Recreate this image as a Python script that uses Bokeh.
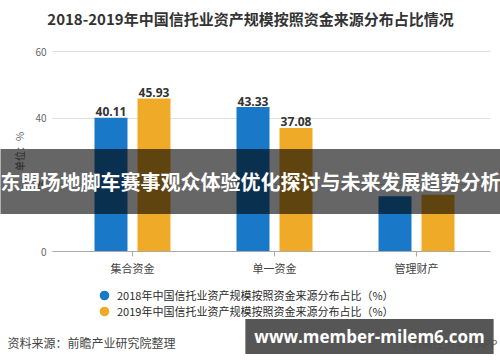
from bokeh.plotting import figure
from bokeh.models import (ColumnDataSource, Range1d, Label, Legend, LegendItem,
                          FixedTicker)
from bokeh.core.properties import value
from bokeh.embed import file_html
from bokeh.resources import INLINE

categories = ["集合资金", "单一资金", "管理财产"]
share_2018 = [40.11, 43.33, 16.56]
share_2019 = [45.93, 37.08, 16.99]
labels_2018 = ["40.11", "43.33", ""]
labels_2019 = ["45.93", "37.08", ""]
y_ticks = [0, 20, 40, 60]
title_text = "2018-2019年中国信托业资产规模按照资金来源分布占比情况"
legend_2018 = "2018年中国信托业资产规模按照资金来源分布占比（%）"
legend_2019 = "2019年中国信托业资产规模按照资金来源分布占比（%）"
source_text = "资料来源：前瞻产业研究院整理"
app_text = "@前瞻经济学人APP"
banner_text = "东盟场地脚车赛事观众体验优化探讨与未来发展趋势分析"
watermark_text = "www.member-milem6.com"

BLUE = "#1a78c8"
ORANGE = "#efab27"
CJK = "Noto Sans CJK SC"

W, H = 500, 362
# layout geometry (pixels): category pitch, first category centre, baseline, px per unit
PITCH, C0, BASE, PPU = 142.0, 132.0, 251.0, 200.0 / 60.0
def X(px):
    return (px - C0) / PITCH
def Y(py):
    return (BASE - py) / PPU

BAR_W = 33 / PITCH
OFF = 21.5 / PITCH

xpos = list(range(len(categories)))
src = ColumnDataSource(dict(
    xa=[i - OFF for i in xpos], xb=[i + OFF for i in xpos],
    a=share_2018, b=share_2019, la=labels_2018, lb=labels_2019))

p = figure(width=W, height=H, output_backend="svg", toolbar_location=None,
           x_range=Range1d(X(0), X(W)), y_range=Range1d(Y(H), Y(0)),
           min_border=0, outline_line_color=None)
p.xgrid.visible = False
p.ygrid.visible = False

r1 = p.vbar(x="xa", top="a", width=BAR_W, source=src, color=BLUE, line_color=None)
r2 = p.vbar(x="xb", top="b", width=BAR_W, source=src, color=ORANGE, line_color=None)

p.text(x="xa", y="a", text="la", source=src, text_align="center",
       text_baseline="alphabetic", y_offset=-6, text_font=value("Open Sans"),
       text_font_style="bold", text_font_size="12px", text_color="#333333")
p.text(x="xb", y="b", text="lb", source=src, text_align="center",
       text_baseline="alphabetic", y_offset=-6, text_font=value("Open Sans"),
       text_font_style="bold", text_font_size="12px", text_color="#333333")

# y axis: fixed at the left edge of the chart area; its inward ticks act as gridlines
ya = p.yaxis[0]
ya.fixed_location = X(52)
ya.ticker = FixedTicker(ticks=y_ticks)
ya.bounds = (0, 60)
ya.level = "underlay"
ya.axis_line_color = None
ya.major_tick_in = 438
ya.major_tick_out = 0
ya.major_tick_line_color = "#e0e0e0"
ya.minor_tick_line_color = None
ya.major_label_text_font = CJK
ya.major_label_text_font_size = "10px"
ya.major_label_text_color = "#666666"
ya.major_label_standoff = 6
ya.axis_label = "单位：%"
ya.axis_label_text_font = CJK
ya.axis_label_text_font_size = "10px"
ya.axis_label_text_font_style = "normal"
ya.axis_label_text_color = "#666666"
ya.axis_label_standoff = 5

xa = p.xaxis[0]
xa.fixed_location = 0
xa.ticker = FixedTicker(ticks=xpos)
xa.major_label_overrides = {i: c for i, c in zip(xpos, categories)}
xa.bounds = (X(52), X(490))
xa.axis_line_color = "#aaaaaa"
xa.major_tick_line_color = "#aaaaaa"
xa.minor_tick_line_color = None
xa.major_tick_out = 5
xa.major_tick_in = 0
xa.major_label_text_font = CJK
xa.major_label_text_font_size = "11px"
xa.major_label_text_color = "#444444"
xa.major_label_standoff = 3

# legend with circle markers (marker renderers kept off-canvas)
c1 = p.scatter(x=[X(-60)], y=[Y(-60)], marker="circle", size=12, color=BLUE,
               line_width=4)
c2 = p.scatter(x=[X(-60)], y=[Y(-60)], marker="circle", size=12, color=ORANGE,
               line_width=4)
legend = Legend(items=[LegendItem(label=legend_2018, renderers=[c1]),
                       LegendItem(label=legend_2019, renderers=[c2])],
                location=(97, 43), orientation="vertical",
                background_fill_alpha=0, border_line_color=None,
                padding=0, margin=0, spacing=0, glyph_width=14, glyph_height=14,
                label_standoff=6, label_height=14,
                label_text_font=CJK, label_text_font_size="11px",
                label_text_color="#2a2a2a")
p.add_layout(legend)

def add_text(px, py, text, **kw):
    p.add_layout(Label(x=X(px), y=Y(py), text=text, text_baseline="middle", **kw))

add_text(250, 18, title_text, text_align="center", text_font=CJK,
         text_font_style="bold", text_font_size="15px", text_color="#333333")
add_text(7, 342, source_text, text_align="left", text_font=CJK,
         text_font_size="12px", text_color="#444444")
add_text(497, 342, app_text, text_align="right", text_font=CJK,
         text_font_size="11px", text_color="#666666")
add_text(250, 181, banner_text, text_align="center", text_font=CJK,
         text_font_style="bold", text_font_size="20px", text_color="white",
         background_fill_color="black", background_fill_alpha=0.6, padding=(3, 18))
add_text(369, 336, watermark_text, text_align="center", text_font="Open Sans",
         text_font_style="bold", text_font_size="17px", text_color="white",
         background_fill_color="#4d4d4d", background_fill_alpha=0.95, padding=(9, 6))

open("out.html", "w").write(file_html(p, INLINE))
